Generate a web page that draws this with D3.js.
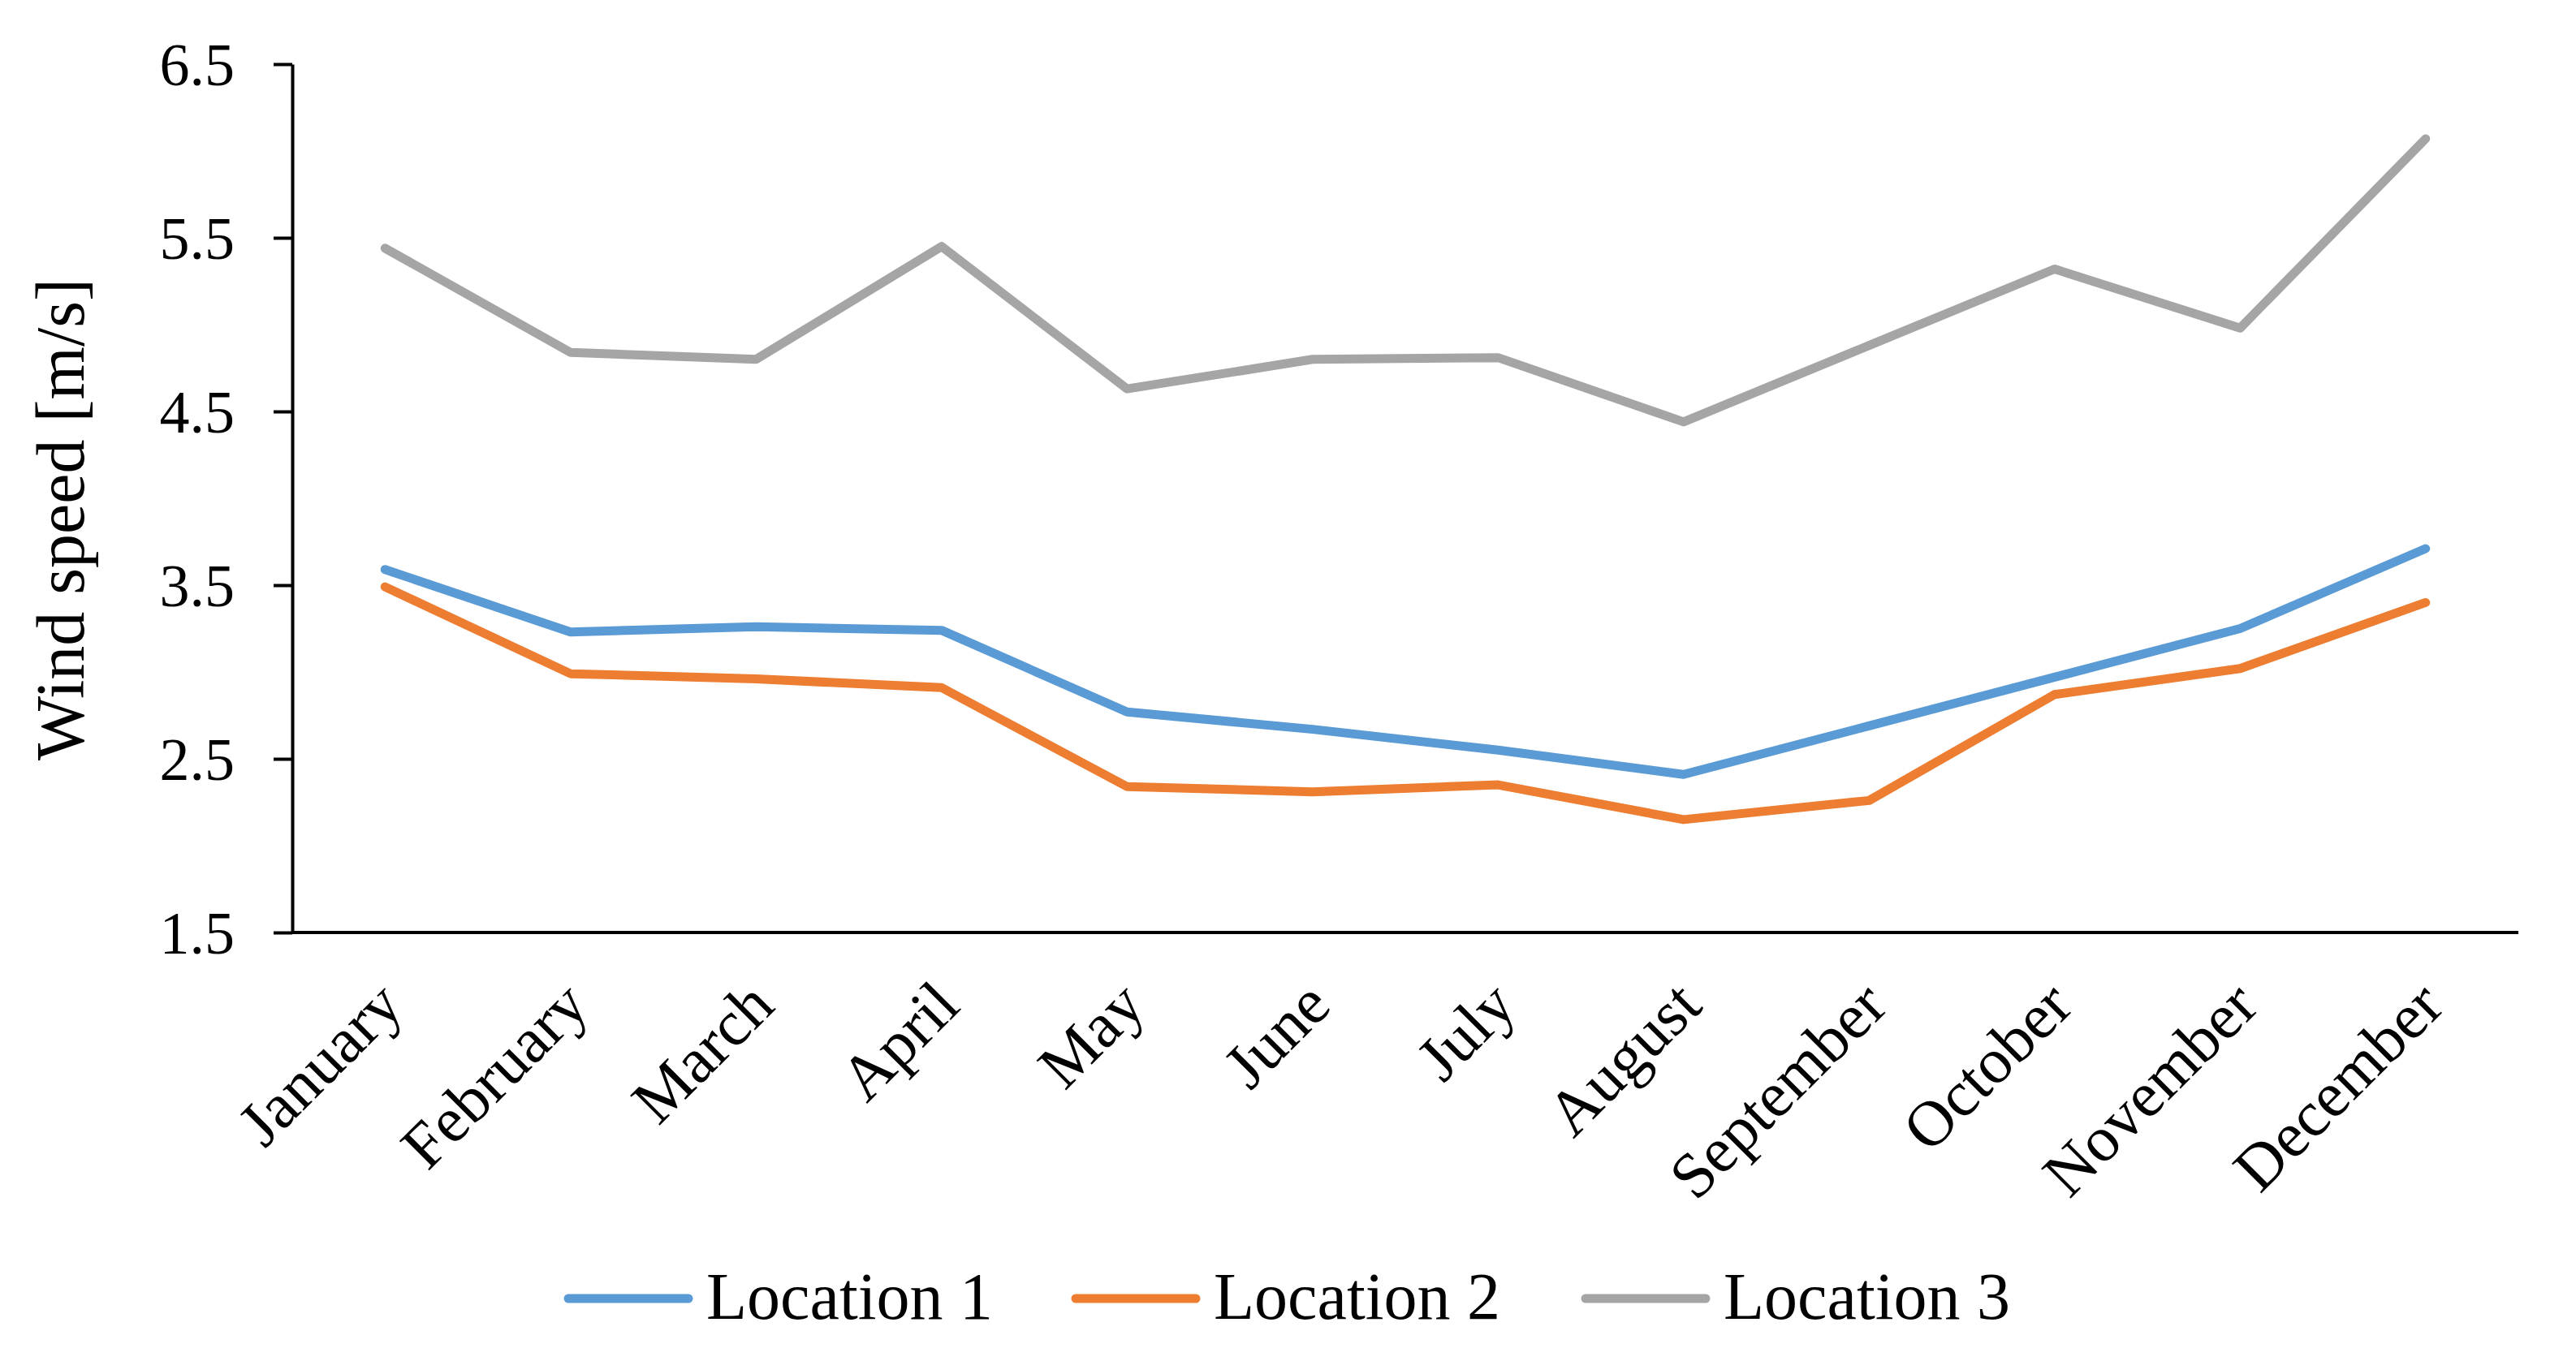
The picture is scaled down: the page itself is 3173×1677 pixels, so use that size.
<!DOCTYPE html>
<html>
<head>
<meta charset="utf-8">
<script src="https://cdn.jsdelivr.net/npm/d3@7"></script>
<style>
  html, body { margin: 0; padding: 0; background: #fff; }
  svg { display: block; }
  text { font-family: "Palatino Linotype", "Book Antiqua", Palatino, "Liberation Serif", serif; fill: #000; }
</style>
</head>
<body>
<svg id="chart" width="3173" height="1677"></svg>
<script>
const months = ["January","February","March","April","May","June","July","August","September","October","November","December"];
const location1 = [3.59, 3.23, 3.26, 3.24, 2.77, 2.67, 2.55, 2.41, 2.69, 2.97, 3.25, 3.71];
const location2 = [3.49, 2.99, 2.96, 2.91, 2.34, 2.31, 2.35, 2.15, 2.26, 2.87, 3.02, 3.40];
const location3 = [5.44, 4.84, 4.80, 5.45, 4.63, 4.80, 4.81, 4.44, 4.88, 5.32, 4.98, 6.07];
const seriesNames = ["Location 1", "Location 2", "Location 3"];
const seriesColors = ["#5B9BD5", "#ED7D31", "#A5A5A5"];
const yTicks = [1.5, 2.5, 3.5, 4.5, 5.5, 6.5];
const yTitle = "Wind speed [m/s]";

const series = [location1, location2, location3];

const svg = d3.select("#chart");
const plotLeft = 360, plotRight = 3102, plotTop = 79, plotBottom = 1149;

const x = d3.scalePoint().domain(months).range([plotLeft, plotRight]).padding(0.5);
const y = d3.scaleLinear().domain([1.5, 6.5]).range([plotBottom, plotTop]);

// Y axis
const yAxis = svg.append("g")
  .attr("transform", `translate(${plotLeft},0)`)
  .call(d3.axisLeft(y).tickValues(yTicks).tickFormat(d3.format(".1f")).tickSize(23).tickSizeOuter(0).tickPadding(48));
yAxis.select(".domain").attr("stroke", "#000").attr("stroke-width", 4);
yAxis.selectAll(".tick line").attr("stroke", "#000").attr("stroke-width", 4);
yAxis.selectAll(".tick text")
  .style("font-family", '"Palatino Linotype", "Book Antiqua", Palatino, "Liberation Serif", serif')
  .style("font-size", "74px").attr("dy", "0.34em");

// X axis
const xAxis = svg.append("g")
  .attr("transform", `translate(0,${plotBottom})`)
  .call(d3.axisBottom(x).tickSize(0).tickSizeOuter(0).tickFormat(""));
xAxis.select(".domain").attr("stroke", "#000").attr("stroke-width", 4)
  .attr("d", `M${plotLeft},0H${plotRight}`);

svg.append("g").selectAll("text").data(months).join("text")
  .attr("transform", d => `translate(${x(d) + 6},${plotBottom + 74}) rotate(-45)`)
  .attr("text-anchor", "end")
  .attr("dy", "0.35em")
  .style("font-size", "79px")
  .text(d => d);

// Y title
svg.append("text")
  .attr("transform", `translate(103,640) rotate(-90)`)
  .attr("text-anchor", "middle")
  .style("font-size", "84px")
  .text(yTitle);

// Lines
const line = d3.line().x((d, i) => x(months[i])).y(d => y(d));
svg.append("g").selectAll("path").data(series).join("path")
  .attr("d", d => line(d))
  .attr("fill", "none")
  .attr("stroke", (d, i) => seriesColors[i])
  .attr("stroke-width", 11)
  .attr("stroke-linejoin", "round")
  .attr("stroke-linecap", "round");

// Legend
const legendX = [700, 1325, 1953];
const lg = svg.append("g").selectAll("g").data(seriesNames).join("g")
  .attr("transform", (d, i) => `translate(${legendX[i]},1600)`);
lg.append("line").attr("x1", 0).attr("x2", 148).attr("y1", 0).attr("y2", 0)
  .attr("stroke", (d, i) => seriesColors[i]).attr("stroke-width", 11).attr("stroke-linecap", "round");
lg.append("text").attr("x", 170).attr("y", 25)
  .style("font-size", "82px").text(d => d);
</script>
</body>
</html>
